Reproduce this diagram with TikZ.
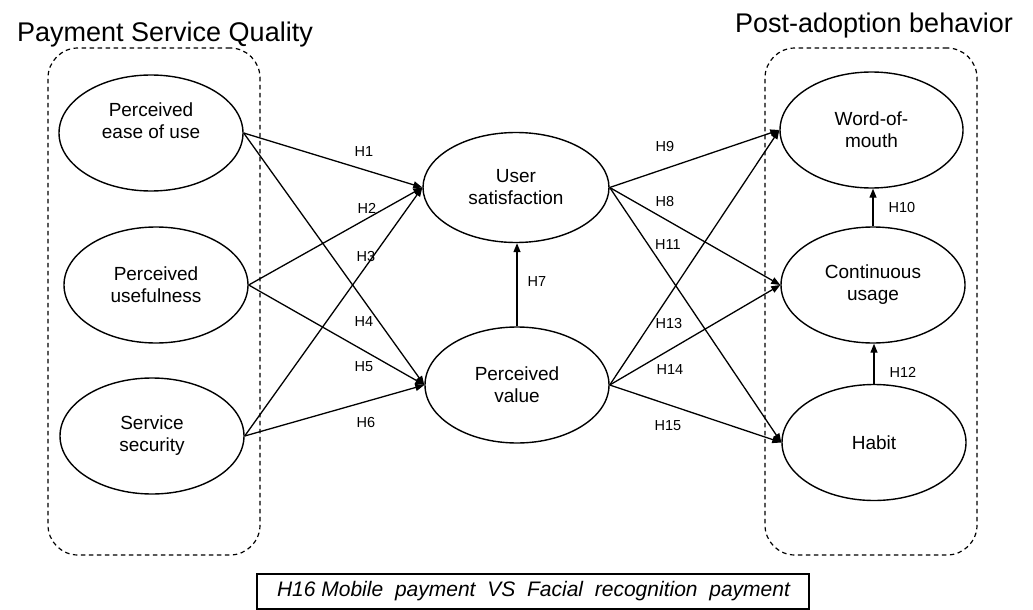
\documentclass[tikz,border=0pt]{standalone}
\usepackage{fontspec}
\setmainfont{Liberation Sans}
\usetikzlibrary{shapes.geometric,arrows.meta}
\begin{document}
\begin{tikzpicture}[x=1pt,y=-1pt,
  ell/.style={draw, ellipse, minimum width=184pt, minimum height=116pt, inner sep=0pt, line width=1.4pt, align=center, font=\fontsize{19}{22}\selectfont},
  txt/.style={align=center, inner sep=0pt, font=\fontsize{19}{22}\selectfont},
  arr/.style={-{Triangle[length=9pt,width=7pt]}, line width=1.3pt},
  hl/.style={inner sep=0pt, font=\fontsize{14.5}{16}\selectfont},
  grp/.style={draw, dash pattern=on 4.5pt off 3.5pt, rounded corners=30pt, line width=1.2pt, inner sep=0pt},
  ttl/.style={inner sep=0pt, font=\fontsize{27}{30}\selectfont}]
\useasboundingbox (0,0) rectangle (1033,610);
% group frames
\node[grp, minimum width=212pt, minimum height=507pt] (lbox) at (154,301.5) {};
\node[grp, minimum width=212pt, minimum height=507pt] (rbox) at (871,301.5) {};
\node[ttl, anchor=base] (ltitle) at (165,42) {Payment Service Quality};
\node[ttl, anchor=base] (rtitle) at (874,33) {Post-adoption behavior};
% constructs
\node[ell] (peou) at (151,133) {};
\node[txt] (peouT) at (151,121) {Perceived\\ease of use};
\node[ell] (pu) at (156,285) {Perceived\\usefulness};
\node[ell] (ss) at (152,436) {Service\\security};
\node[ell, minimum width=186pt, minimum height=110pt] (us) at (516,187.5) {User\\satisfaction};
\node[ell] (pv) at (517,385) {Perceived\\value};
\node[ell, minimum width=183pt] (wom) at (871.5,130) {Word-of-\\mouth};
\node[ell] (cu) at (873,285) {Continuous\\usage};
\node[ell] (hab) at (874,442.5) {Habit};
% paths
\draw[arr] (peou.east) -- (us.west);
\draw[arr] (pu.east) -- (us.west);
\draw[arr] (ss.east) -- (us.west);
\draw[arr] (peou.east) -- (pv.west);
\draw[arr] (pu.east) -- (pv.west);
\draw[arr] (ss.east) -- (pv.west);
\draw[arr] (pv.north) -- (pv.north |- us.south);
\draw[arr] (us.east) -- (wom.west);
\draw[arr] (us.east) -- (cu.west);
\draw[arr] (us.east) -- (hab.west);
\draw[arr] (pv.east) -- (wom.west);
\draw[arr] (pv.east) -- (cu.west);
\draw[arr] (pv.east) -- (hab.west);
\draw[arr] (cu.north) -- (cu.north |- wom.south);
\draw[arr] (hab.north) -- (hab.north |- cu.south);
% hypothesis labels
\node[hl] (h1) at (364,152) {H1};
\node[hl] (h2) at (367,208) {H2};
\node[hl] (h3) at (366,257) {H3};
\node[hl] (h4) at (364,322) {H4};
\node[hl] (h5) at (364,367) {H5};
\node[hl] (h6) at (366,423) {H6};
\node[hl] (h7) at (537,282) {H7};
\node[hl] (h9) at (665,147) {H9};
\node[hl] (h8) at (665,202) {H8};
\node[hl] (h11) at (668,245) {H11};
\node[hl] (h10) at (902,208) {H10};
\node[hl] (h13) at (669,324) {H13};
\node[hl] (h14) at (670,370) {H14};
\node[hl] (h15) at (668,426) {H15};
\node[hl] (h12) at (903,372) {H12};
% H16 box
\node[draw, line width=1.3pt, minimum width=552pt, minimum height=35pt, inner sep=0pt] (h16box) at (533,591.5) {};
\node[inner sep=0pt, font=\fontsize{21}{24}\selectfont\itshape] (h16) at (533.5,591.5)
  {\makebox[513pt][s]{H16\hspace{0.28em}Mobile payment VS Facial recognition payment}};
\end{tikzpicture}
\end{document}
